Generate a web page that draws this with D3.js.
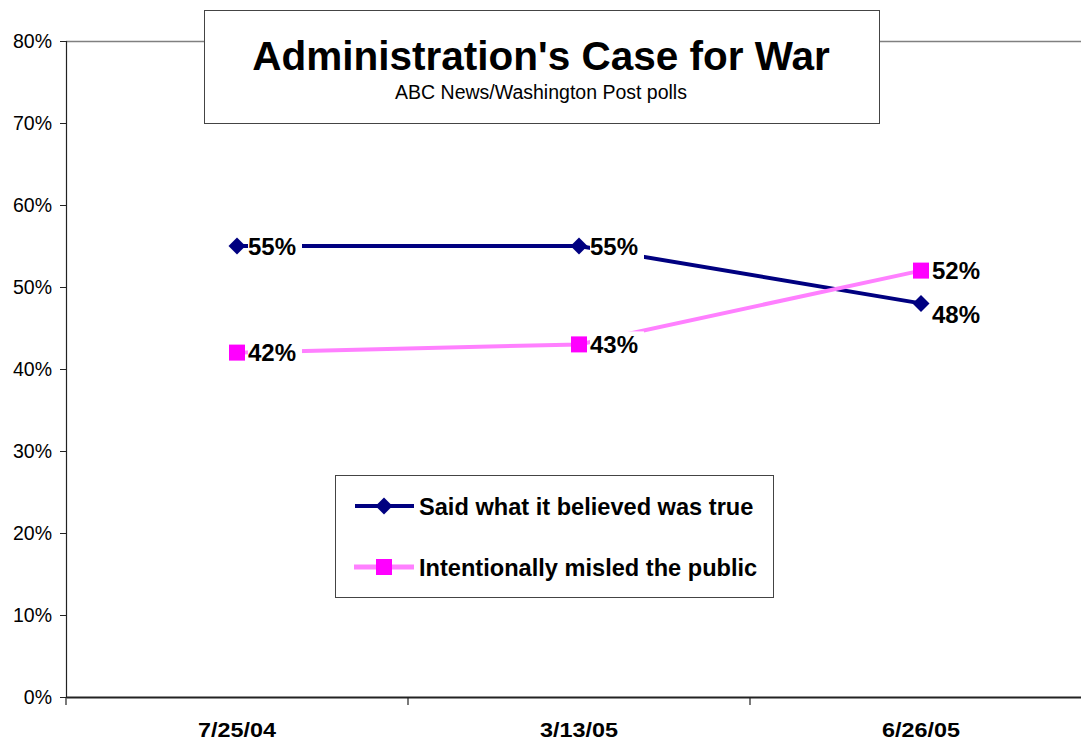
<!DOCTYPE html>
<html><head><meta charset="utf-8">
<script src="https://cdn.jsdelivr.net/npm/d3@7"></script>
<style>
html,body{margin:0;padding:0;background:#fff;overflow:hidden;}
text{font-family:Arial,"Liberation Sans",sans-serif;}
</style></head>
<body>
<svg id="c" width="1081" height="743"></svg>
<script>
const categories = ["7/25/04", "3/13/05", "6/26/05"];
const saidTrue = [55, 55, 48];
const misled = [42, 43, 52];
const seriesNames = ["Said what it believed was true", "Intentionally misled the public"];
const yTicks = [0, 10, 20, 30, 40, 50, 60, 70, 80];
const titleText = "Administration's Case for War";
const subtitleText = "ABC News/Washington Post polls";

(function () {
const svg = d3.select("#c");
const pLeft = 66, pTop = 41, pBottom = 697, pRight = 1092;

const x = d3.scaleBand().domain(categories).range([pLeft, pRight]).padding(0);
const y = d3.scaleLinear().domain([0, 80]).range([pBottom, pTop]);

svg.append("line").attr("x1", pLeft).attr("x2", pRight).attr("y1", pTop + 0.5).attr("y2", pTop + 0.5)
  .attr("stroke", "#808080").attr("stroke-width", 1.5);

const yAxis = d3.axisLeft(y).tickValues(yTicks).tickFormat(d => d + "%").tickSize(6).tickPadding(8);
const gy = svg.append("g").attr("transform", `translate(${pLeft},0)`).call(yAxis);
gy.select(".domain").attr("stroke", "#222").attr("stroke-width", 1.2);
gy.selectAll(".tick line").attr("stroke", "#222");
gy.selectAll("text").attr("font-size", 19.5).attr("fill", "#000").attr("font-family", "Arial, 'Liberation Sans', sans-serif");

const xAxis = d3.axisBottom(x).tickSize(0).tickFormat("");
const gx = svg.append("g").attr("transform", `translate(0,${pBottom})`).call(xAxis);
gx.select(".domain").attr("stroke", "#222").attr("stroke-width", 2);
const bounds = categories.map(c => x(c));
gx.selectAll("line.bt").data(bounds).enter().append("line").attr("class", "bt")
  .attr("x1", d => d).attr("x2", d => d).attr("y1", 0).attr("y2", 8).attr("stroke", "#222").attr("stroke-width", 1.2);
svg.selectAll("text.cat").data(categories).enter().append("text").attr("class", "cat")
  .attr("transform", d => `translate(${x(d) + x.bandwidth() / 2},737) scale(1.17,1)`)
  .attr("text-anchor", "middle")
  .attr("font-size", 20).attr("font-weight", "bold").attr("fill", "#000").text(d => d);

const cx = d => x(d) + x.bandwidth() / 2;
const line = d3.line().x(d => cx(d.c)).y(d => y(d.v));
const s1 = categories.map((c, i) => ({c, v: saidTrue[i], i}));
const s2 = categories.map((c, i) => ({c, v: misled[i], i}));

svg.append("path").datum(s1).attr("d", line).attr("fill", "none").attr("stroke", "#000080").attr("stroke-width", 4);
svg.append("path").datum(s2).attr("d", line).attr("fill", "none").attr("stroke", "#FF80FF").attr("stroke-width", 4);

const dia = d3.symbol().type(d3.symbolSquare).size(144);
svg.selectAll("path.m1").data(s1).enter().append("path").attr("class", "m1")
  .attr("d", dia).attr("fill", "#000080")
  .attr("transform", d => `translate(${cx(d.c)},${y(d.v)}) rotate(45)`);
svg.selectAll("rect.m2").data(s2).enter().append("rect").attr("class", "m2")
  .attr("x", d => cx(d.c) - 8).attr("y", d => y(d.v) - 8).attr("width", 16).attr("height", 16).attr("fill", "#FF00FF");

function labels(data, cls, below) {
  const g = svg.selectAll("g." + cls).data(data).enter().append("g").attr("class", cls)
    .attr("transform", d => {
      const dy = (below && d.i === data.length - 1) ? 11 : 0;
      return `translate(${cx(d.c) + 11},${y(d.v) + dy})`;
    });
  g.append("rect").attr("x", 0).attr("y", -13).attr("width", 54).attr("height", 26).attr("fill", "#fff");
  g.append("text").attr("x", 0).attr("y", 8.5).attr("font-size", 24).attr("font-weight", "bold")
    .attr("fill", "#000").text(d => d.v + "%");
}
labels(s1, "l1", true);
labels(s2, "l2", false);

svg.append("rect").attr("x", 204.5).attr("y", 10.5).attr("width", 675).attr("height", 113)
  .attr("fill", "#fff").attr("stroke", "#444").attr("stroke-width", 1);
svg.append("text").attr("x", 541).attr("y", 70).attr("text-anchor", "middle")
  .attr("font-size", 40.5).attr("font-weight", "bold").attr("fill", "#000").text(titleText);
svg.append("text").attr("x", 541).attr("y", 99).attr("text-anchor", "middle")
  .attr("font-size", 19.5).attr("fill", "#000").text(subtitleText);

const lg = svg.append("g");
lg.append("rect").attr("x", 335.5).attr("y", 475.5).attr("width", 438).attr("height", 122)
  .attr("fill", "#fff").attr("stroke", "#444").attr("stroke-width", 1);
const ly = [506, 567];
lg.append("line").attr("x1", 355).attr("x2", 414).attr("y1", ly[0]).attr("y2", ly[0]).attr("stroke", "#000080").attr("stroke-width", 4);
lg.append("path").attr("d", dia).attr("fill", "#000080")
  .attr("transform", `translate(384,${ly[0]}) rotate(45)`);
lg.append("line").attr("x1", 354).attr("x2", 414).attr("y1", ly[1]).attr("y2", ly[1]).attr("stroke", "#FF80FF").attr("stroke-width", 5);
lg.append("rect").attr("x", 376).attr("y", ly[1] - 8).attr("width", 16).attr("height", 16).attr("fill", "#FF00FF");
lg.selectAll("text").data(seriesNames).enter().append("text")
  .attr("x", 419).attr("y", (d, i) => ly[i] + 8.5).attr("font-size", 23.6).attr("font-weight", "bold")
  .attr("fill", "#000").text(d => d);
})();
</script>
</body></html>
